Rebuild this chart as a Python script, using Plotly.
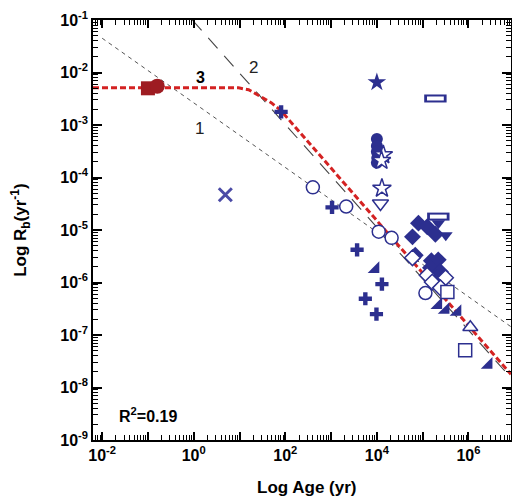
import math
import plotly.graph_objects as go

# ---------------- data (ages in yr, rates in 1/yr) ----------------
cross_age = [81, 1050, 3700, 12900, 5600, 9800]
cross_rate = [1.78e-3, 2.7e-5, 4.2e-6, 9.3e-7, 4.9e-7, 2.5e-7]

open_circle_age = [400, 2140, 11000, 21000, 115000]
open_circle_rate = [6.5e-5, 2.8e-5, 9.3e-6, 7.1e-6, 6.3e-7]

filled_circle_age = [10000, 10000, 10000, 10200, 10000]
filled_circle_rate = [5.4e-4, 4.0e-4, 3.1e-4, 2.35e-4, 1.9e-4]

filled_star_age = [10000]
filled_star_rate = [6.5e-3]

open_star_age = [13800, 12600, 12900]
open_star_rate = [2.7e-4, 2.1e-4, 6.2e-5]

open_tri_down_age = [12000]
open_tri_down_rate = [3.2e-5]

filled_tri_down_age = [220000, 320000]
filled_tri_down_rate = [1.35e-5, 7.9e-6]

open_rect_age = [190000, 220000]
open_rect_rate = [3.2e-3, 1.8e-5]

x_age = [4.9]
x_rate = [4.7e-5]

filled_diamond_age = [81000, 126000, 190000, 60000, 69000, 155000, 219000, 148000, 245000, 209000]
filled_diamond_rate = [1.35e-5, 1.15e-5, 8.3e-6, 7.4e-6, 3.3e-6, 2.6e-6, 2.7e-6, 1.9e-6, 1.6e-6, 1.23e-6]

open_diamond_age = [60000, 126000, 162000, 316000, 245000]
open_diamond_rate = [2.95e-6, 1.38e-6, 1.02e-6, 1.23e-6, 7.9e-7]

open_square_age = [347000, 850000]
open_square_rate = [6.6e-7, 5.1e-8]

filled_rtri_age = [9300, 219000, 316000, 575000, 2750000]
filled_rtri_rate = [1.8e-6, 3.7e-7, 3.0e-7, 2.75e-7, 2.7e-8]

open_tri_up_age = [1100000]
open_tri_up_rate = [1.4e-7]

red_square_age = [0.10]
red_square_rate = [5.0e-3]
red_circle_age = [0.16]
red_circle_rate = [5.5e-3]

line1_age = [1e-2, 1e7]
line1_rate = [4.5e-2, 1.3e-7]

line2_age = [0.93, 1e7]
line2_rate = [1e-1, 1.3e-8]

line3_age = [10**-2.2, 9.5, 15.8, 28.2, 50.1, 79.4, 8.5e6]
line3_rate = [5.1e-3, 5.1e-3, 4.7e-3, 3.55e-3, 2.63e-3, 1.9e-3, 1.78e-8]

x_tick_vals = [10**k for k in range(-2, 7)]
x_tick_text = ["10<sup>-2</sup>", "", "10<sup>0</sup>", "", "10<sup>2</sup>", "",
               "10<sup>4</sup>", "", "10<sup>6</sup>"]
y_tick_vals = [10**k for k in range(-9, 0)]
y_tick_text = ["10<sup>%d</sup>" % k for k in range(-9, 0)]

X_RANGE = [-2.2, 6.93]
Y_RANGE = [-9, -1]

# ---------------- figure ----------------
BLUE = "#2c2f8f"
fig = go.Figure()

fig.add_trace(go.Scatter(x=line1_age, y=line1_rate, mode="lines",
                         line=dict(color="#555555", width=1, dash="4px,4px")))
fig.add_trace(go.Scatter(x=line2_age, y=line2_rate, mode="lines",
                         line=dict(color="#444444", width=1.1, dash="14px,10px")))
fig.add_trace(go.Scatter(x=line3_age, y=line3_rate, mode="lines",
                         line=dict(color="#d42222", width=3, dash="6px,3px")))


def pts(x, y, symbol, size, filled=True, color=BLUE, lw=1.5):
    if filled:
        m = dict(symbol=symbol, size=size, color=color, line=dict(width=0))
    else:
        m = dict(symbol=symbol, size=size, color="white", line=dict(width=lw, color=color))
    fig.add_trace(go.Scatter(x=x, y=y, mode="markers", marker=m))


pts(filled_diamond_age, filled_diamond_rate, "diamond", 13)
pts(filled_circle_age, filled_circle_rate, "circle", 12)
pts(filled_star_age, filled_star_rate, "star", 14)
pts(cross_age, cross_rate, "cross", 11)
pts(filled_tri_down_age, filled_tri_down_rate, "triangle-down", 12)
pts(filled_rtri_age, filled_rtri_rate, "triangle-se", 13)
pts(open_circle_age, open_circle_rate, "circle", 13, filled=False)
pts(open_star_age, open_star_rate, "star", 14, filled=False)
pts(open_tri_down_age, open_tri_down_rate, "triangle-down", 14, filled=False)
pts(open_diamond_age, open_diamond_rate, "diamond", 12, filled=False)
pts(open_square_age, open_square_rate, "square", 13, filled=False)
pts(open_tri_up_age, open_tri_up_rate, "triangle-up", 13, filled=False)
# rounded-rectangle markers (outline)
fig.add_trace(go.Scatter(x=open_rect_age, y=open_rect_rate, mode="markers",
                         marker=dict(symbol="line-ew-open", size=16, color=BLUE,
                                     line=dict(width=8, color=BLUE))))
fig.add_trace(go.Scatter(x=open_rect_age, y=open_rect_rate, mode="markers",
                         marker=dict(symbol="line-ew-open", size=12, color="white",
                                     line=dict(width=4, color="white"))))
fig.add_trace(go.Scatter(x=x_age, y=x_rate, mode="markers",
                         marker=dict(symbol="x-thin-open", size=13, color="#4b4ba6",
                                     line=dict(width=3, color="#4b4ba6"))))
fig.add_trace(go.Scatter(x=red_square_age, y=red_square_rate, mode="markers",
                         marker=dict(symbol="square", size=14, color="#9e1c22")))
fig.add_trace(go.Scatter(x=red_circle_age, y=red_circle_rate, mode="markers",
                         marker=dict(symbol="circle", size=15, color="#9e1c22")))

FONT = "Liberation Sans, Arial, Helvetica, sans-serif"
BOLD17 = dict(family=FONT, size=17, color="black", weight="bold")

fig.add_annotation(x=0.15, y=-2.10, text="3", showarrow=False,
                   font=dict(family=FONT, size=16, color="black", weight="bold"))
fig.add_annotation(x=1.30, y=-1.91, text="2", showarrow=False,
                   font=dict(family=FONT, size=17, color="#222"))
fig.add_annotation(x=0.12, y=-3.06, text="1", showarrow=False,
                   font=dict(family=FONT, size=17, color="#222"))
fig.add_annotation(x=-0.99, y=-8.52, text="R<sup>2</sup>=0.19", showarrow=False,
                   font=dict(family=FONT, size=16, color="black", weight="bold"))
# axis titles
fig.add_annotation(xref="paper", yref="paper", x=0.51, y=-0.114, text="Log Age (yr)",
                   showarrow=False, yanchor="middle", font=BOLD17)
fig.add_annotation(xref="paper", yref="paper", x=-0.175, y=0.5,
                   text="Log R<sub>b</sub>(yr<sup>-1</sup>)", textangle=-90,
                   showarrow=False, xanchor="center", yanchor="middle", font=BOLD17)

tickfont = dict(family=FONT, size=16, color="black", weight="bold")


def in_range(v, rng):
    return rng[0] <= math.log10(v) <= rng[1]


minor_x = [m * 10**k for k in range(-3, 8) for m in range(2, 10)
           if in_range(m * 10**k, X_RANGE)]
minor_y = [m * 10**k for k in range(-10, 0) for m in range(2, 10)
           if in_range(m * 10**k, Y_RANGE)]

fig.update_layout(
    width=512, height=500,
    margin=dict(l=93, r=1, t=20, b=60, autoexpand=False),
    paper_bgcolor="white", plot_bgcolor="white",
    showlegend=False,
)
base = dict(type="log", showline=True, linecolor="black", linewidth=1.5, mirror="ticks",
            ticks="inside", tickwidth=1.5, tickcolor="black", showgrid=False, zeroline=False)
fig.update_xaxes(base)
fig.update_yaxes(base)
fig.update_xaxes(range=X_RANGE, ticklen=8,
                 tickmode="array", tickvals=x_tick_vals, ticktext=x_tick_text,
                 tickfont=tickfont,
                 minor=dict(tickmode="array", tickvals=minor_x, ticks="inside", ticklen=5,
                            tickcolor="black", tickwidth=1.2))
fig.update_yaxes(range=Y_RANGE, ticklen=9,
                 tickmode="array", tickvals=y_tick_vals, ticktext=y_tick_text,
                 tickfont=tickfont,
                 minor=dict(tickmode="array", tickvals=minor_y, ticks="inside", ticklen=5,
                            tickcolor="black", tickwidth=1.2))

fig.write_html("out.html", config={"displayModeBar": False},
               post_script="document.body.style.margin='0px';document.body.style.padding='0px';")
